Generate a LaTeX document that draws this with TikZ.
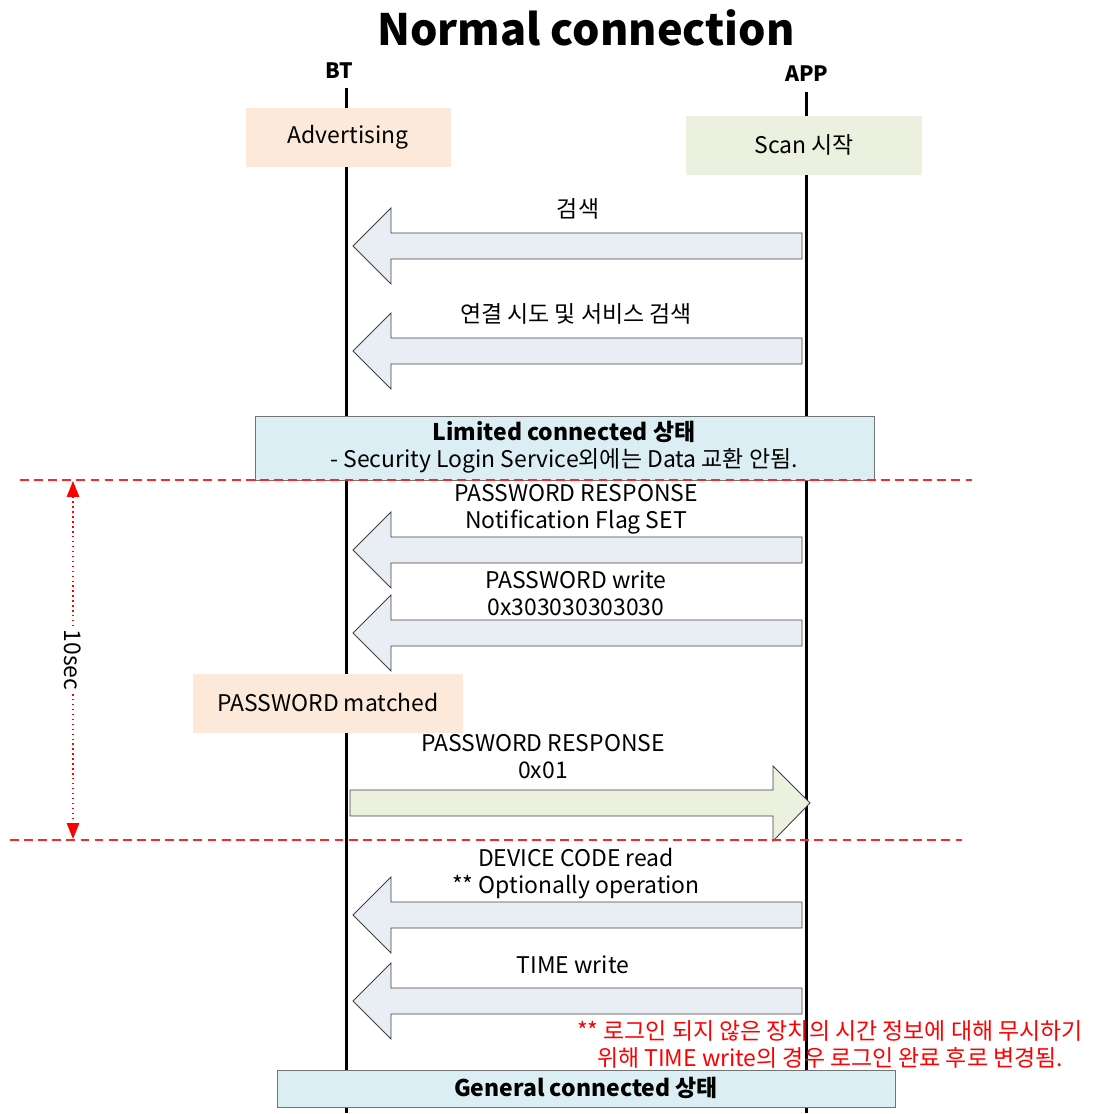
\documentclass[tikz,border=0pt]{standalone}
\usepackage{fontspec}
\setmainfont{Noto Sans CJK KR}
\usetikzlibrary{arrows.meta}

\definecolor{peach}{HTML}{FCE9DA}
\definecolor{sage}{HTML}{EBF1DE}
\definecolor{icy}{HTML}{DBEEF3}
\definecolor{mist}{HTML}{E9EEF5}

\tikzstyle{lifeline}=[line width=1.7pt, black]
\tikzstyle{block}=[fill=mist, draw=black!75, line width=0.5pt]
\tikzstyle{block ok}=[fill=sage, draw=black!75, line width=0.5pt]
\tikzstyle{state}=[fill=icy, draw=black!55, line width=0.5pt]
\tikzstyle{limit}=[red!85!white, line width=0.8pt, dash pattern=on 5pt off 3pt]
\tikzstyle{msg}=[align=center, inner sep=0pt, font=\fontsize{13}{15.3}\selectfont]

\begin{document}
\begin{tikzpicture}[x=0.5669pt, y=-0.5669pt]
	\useasboundingbox (0,0) rectangle (1116,1113);

	% Title and lifelines
	\node[font=\fontsize{24.5}{28}\selectfont\bfseries] (title) at (586,28) {Normal connection};
	\node[font=\fontsize{12}{14}\selectfont\bfseries] (bt)  at (339,71) {BT};
	\node[font=\fontsize{12}{14}\selectfont\bfseries] (app) at (807,74) {APP};
	\coordinate (bttop)  at (346,88);
	\coordinate (btend)  at (346,1113);
	\coordinate (apptop) at (806,92);
	\coordinate (append) at (806,1113);
	\draw[lifeline] (bttop) -- (btend);
	\draw[lifeline] (apptop) -- (append);

	% State boxes
	\fill[peach] (246,108) rectangle (451,167);
	\fill[sage]  (686,116) rectangle (922,175);
	\fill[peach] (193,674) rectangle (463,733);
	\filldraw[state] (255,416) rectangle (874,480);
	\filldraw[state] (277,1070) rectangle (895,1107);

	\node[msg] (adv)   at (348,137) {Advertising};
	\node[msg] (scan)  at (804,145) {Scan 시작};
	\node[msg] (match) at (328,703) {PASSWORD matched};
	\node[msg] (limited) at (564,447) {\textbf{Limited connected 상태}\\- Security Login Service외에는 Data 교환 안됨.};
	\node[msg] (general) at (586,1088) {\textbf{General connected 상태}};

	% Block arrows APP -> BT
	\foreach \c in {246, 351, 550, 633, 915, 1001}{
		\filldraw[block] (802,\c-13) -- (391,\c-13) -- (391,\c-38) -- (353,\c)
			-- (391,\c+38) -- (391,\c+13) -- (802,\c+13) -- cycle;
	}
	% Block arrow BT -> APP
	\filldraw[block ok] (350,790) -- (773,790) -- (773,766) -- (810,803)
		-- (773,841) -- (773,816) -- (350,816) -- cycle;

	\node[msg] (m1) at (578,209) {검색};
	\node[msg] (m2) at (576,314) {연결 시도 및 서비스 검색};
	\node[msg] (m3) at (576,509) {PASSWORD RESPONSE\\Notification Flag SET};
	\node[msg] (m4) at (576,593) {PASSWORD write\\0x303030303030};
	\node[msg] (m5) at (543,757) {PASSWORD RESPONSE\\0x01};
	\node[msg] (m6) at (576,874) {DEVICE CODE read\\** Optionally operation};
	\node[msg] (m7) at (573,965) {TIME write};

	% 10 sec window
	\coordinate (w1l) at (20,480);  \coordinate (w1r) at (972,480);
	\coordinate (w2l) at (10,840);  \coordinate (w2r) at (962,840);
	\draw[limit] (w1l) -- (w1r);
	\draw[limit] (w2l) -- (w2r);
	\coordinate (d1) at (73,481);
	\coordinate (d2) at (73,839);
	\draw[red, dotted, line width=0.8pt, {Triangle[length=9pt,width=7pt]}-{Triangle[length=9pt,width=7pt]}]
		(d1) -- node[msg, fill=white, text=black, rotate=-90, inner sep=2pt] (sec) {10sec} (d2);

	% Note
	\node[msg, text=red] (note) at (830,1044) {** 로그인 되지 않은 장치의 시간 정보에 대해 무시하기\\위해 TIME write의 경우 로그인 완료 후로 변경됨.};
\end{tikzpicture}
\end{document}
